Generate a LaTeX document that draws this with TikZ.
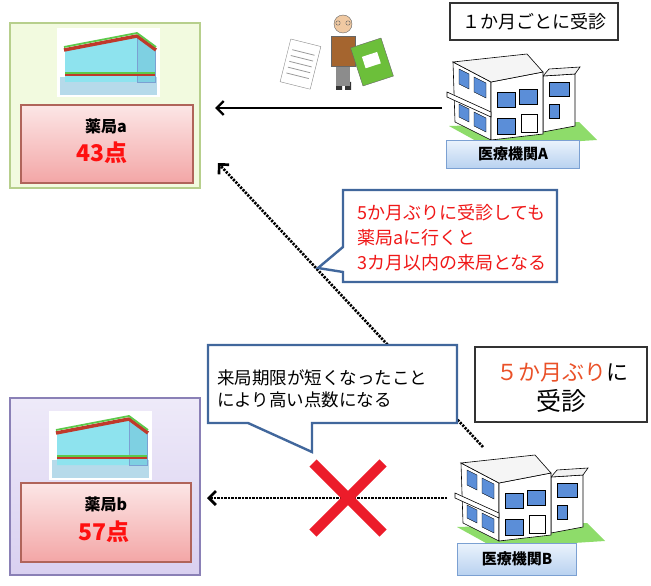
\documentclass[tikz,border=0pt]{standalone}
\usepackage{fontspec}
\newfontfamily\jp{Noto Sans CJK JP}
\usetikzlibrary{arrows.meta}

\definecolor{bggreen}{HTML}{F2FADF}
\definecolor{boxgreen}{HTML}{B7CF8C}
\definecolor{bgpurpletop}{HTML}{EEEAF9}
\definecolor{bgpurplebot}{HTML}{D9D0F0}
\definecolor{boxpurple}{HTML}{8A80B6}
\definecolor{pinktop}{HTML}{FCE6E6}
\definecolor{pinkbot}{HTML}{F3A6A6}
\definecolor{pinkline}{HTML}{B0645A}
\definecolor{labeltop}{HTML}{EBF3FC}
\definecolor{labelbot}{HTML}{B9D2F0}
\definecolor{labelline}{HTML}{7BA0D2}
\definecolor{calloutline}{HTML}{41679C}
\definecolor{scorered}{HTML}{FF1010}
\definecolor{crossred}{HTML}{EC1C2A}
\definecolor{notered}{HTML}{F01818}
\definecolor{monthred}{HTML}{EA5128}
\definecolor{glass}{HTML}{8EE3EE}
\definecolor{glassside}{HTML}{7ED0E2}
\definecolor{pharmbase}{HTML}{B6DAEA}
\definecolor{roofred}{HTML}{C0392B}
\definecolor{roofgreen}{HTML}{5CC94A}
\definecolor{window}{HTML}{5B8ED8}
\definecolor{grass}{HTML}{8EDC6A}
\definecolor{jacket}{HTML}{A5652F}
\definecolor{skin}{HTML}{F0C9A2}
\definecolor{booklet}{HTML}{6CBF3A}

\tikzset{
  % small shop building with a flat roof
  pharmacy/.pic={
    \fill[white] (-3,-4) rectangle (100,65);
    \fill[pharmbase] (0,45) rectangle (97,63);
    \fill[glass] (5,18) -- (77,4) -- (77,50) -- (5,50) -- cycle;
    \fill[glassside] (77,4) -- (95,18) -- (95,50) -- (77,50) -- cycle;
    \draw[labelline, line width=0.8pt] (77,6) -- (77,50) -- (95,50) -- (95,18);
    \draw[roofred, line width=3.5pt, line join=round] (4,18) -- (77,4) -- (96,18);
    \draw[roofgreen, line width=1.8pt, line join=round] (4,15) -- (77,1) -- (96,15);
    \draw[roofred, line width=2.2pt] (5,43) -- (95,43);
    \draw[roofgreen, line width=1.2pt] (5,41) -- (95,41);
  },
  % two storey clinic building
  clinic/.pic={
    \fill[grass] (2,74) -- (40,95) -- (150,88) -- (132,70) -- cycle;
    \begin{scope}[draw=black, line width=0.6pt, fill=white]
      \filldraw (96,24) -- (128,22) -- (128,74) -- (96,80) -- cycle;
      \filldraw[fill=black!5] (96,24) -- (102,17) -- (133,15) -- (128,22) -- cycle;
      \filldraw (6,10) -- (44,30) -- (44,88) -- (8,70) -- cycle;
      \filldraw (44,30) -- (96,20) -- (96,82) -- (44,88) -- cycle;
      \filldraw[fill=black!4] (6,10) -- (80,2) -- (96,20) -- (44,30) -- cycle;
      \filldraw (0,40) -- (44,60) -- (44,65) -- (0,45) -- cycle;
    \end{scope}
    \begin{scope}[fill=window, draw=black, line width=0.4pt]
      \filldraw (12,17) -- (22,22) -- (22,37) -- (12,32) -- cycle;
      \filldraw (27,25) -- (39,31) -- (39,46) -- (27,40) -- cycle;
      \filldraw (12,52) -- (22,57) -- (22,70) -- (12,65) -- cycle;
      \filldraw (27,60) -- (39,66) -- (39,80) -- (27,74) -- cycle;
      \filldraw (50,40) rectangle (68,55);
      \filldraw (72,37) rectangle (90,52);
      \filldraw (50,66) rectangle (68,82);
      \filldraw (102,30) rectangle (122,44);
      \filldraw (102,52) rectangle (112,66);
    \end{scope}
    \draw[line width=0.6pt] (74,62) rectangle (90,80);
  },
  boxbase/.style={anchor=north west, outer sep=0pt, line width=1.2pt},
  pinkbox/.style={boxbase, draw=pinkline, top color=pinktop, bottom color=pinkbot},
  clinictag/.style={draw=labelline, line width=1pt, top color=labeltop,
    bottom color=labelbot, font=\jp\bfseries\fontsize{15}{15}\selectfont},
  plainbox/.style={boxbase, draw=black!80, line width=1.4pt, fill=white},
  callout/.style={draw=calloutline, line width=2.4pt, fill=white, line join=miter},
  shopname/.style={font=\jp\bfseries\fontsize{16}{16}\selectfont},
  score/.style={text=scorered, font=\jp\bfseries\fontsize{23}{23}\selectfont},
  visit/.style={line width=2.4pt, -{Straight Barb[length=7pt,width=14pt]}},
  dotvisit/.style={visit, line width=2.7pt, dash pattern=on 2.2pt off 1.3pt},
}

\begin{document}
\begin{tikzpicture}[x=1pt, y=-1pt, font=\jp, every node/.style={inner sep=0pt}]
  \useasboundingbox (0,0) rectangle (651,586);

  % pharmacy a
  \node[boxbase, draw=boxgreen, fill=bggreen, minimum width=190, minimum height=165] (phA) at (10,23) {};
  \pic at (60,32) {pharmacy};
  \node[pinkbox, minimum width=172, minimum height=78] (pinkA) at (21,105) {};
  \node[shopname] (nameA) at (106,126) {薬局a};
  \node[score] (scoreA) at (102,153) {43点};

  % pharmacy b
  \node[boxbase, draw=boxpurple, top color=bgpurpletop, bottom color=bgpurplebot,
    minimum width=190, minimum height=177] (phB) at (10,398) {};
  \pic at (52,415) {pharmacy};
  \node[pinkbox, minimum width=170, minimum height=79] (pinkB) at (21,483) {};
  \node[shopname] (nameB) at (106,504) {薬局b};
  \node[score] (scoreB) at (104,532) {57点};

  % patient with prescription and booklet
  \filldraw[draw=black!45, fill=white, rotate around={-14:(300,64)}] (285,42) rectangle (316,86);
  \foreach \y in {52,58,64,70,76}
    \draw[black!40, line width=0.8pt, rotate around={-14:(300,64)}] (289,\y) -- (312,\y);
  \fill[black!80] (336,82) rectangle (342,90) (345,82) rectangle (351,90);
  \fill[black!45] (336,64) rectangle (350,86);
  \filldraw[draw=black!60, fill=jacket] (331,36) rectangle (355,66);
  \filldraw[draw=black!60, fill=skin] (343,24) circle (9);
  \draw[black!60] (338,23) circle (2.2) (348,23) circle (2.2);
  \filldraw[draw=black!60, fill=booklet, rotate around={18:(372,62)}] (356,42) rectangle (388,82);
  \fill[white, rotate around={18:(372,62)}] (364,54) rectangle (380,66);

  % clinics
  \pic at (447,52) {clinic};
  \node[clinictag, minimum width=133, minimum height=28] (hospA) at (513,154) {医療機関A};
  \pic at (455,453) {clinic};
  \node[clinictag, minimum width=119, minimum height=32] (hospB) at (517,559) {医療機関B};

  \node[plainbox, minimum width=168, minimum height=37, font=\jp\fontsize{18}{18}\selectfont] (every) at (450,3) {１か月ごとに受診};

  % visits
  \coordinate (fromA) at (442,108);
  \coordinate (toA) at (215,108);
  \coordinate (fromB) at (483,447);
  \coordinate (toAdot) at (218,163);
  \coordinate (fromBside) at (447,498);
  \coordinate (toB) at (207,498);
  \draw[visit] (fromA) -- (toA);
  \draw[dotvisit] (fromB) -- (toAdot);
  \draw[dotvisit] (fromBside) -- (toB);

  % not allowed
  \draw[crossred, line width=10pt] (313,463) -- (383,533) (383,463) -- (313,533);

  % note boxes
  \draw[callout] (343,190) -- (557,190) -- (557,282) -- (343,282) -- (343,272) -- (318,268) -- (343,247) -- cycle;
  \node[anchor=west, align=left, text=notered, font=\jp\fontsize{18}{25}\selectfont] (noteA) at (357,238)
    {5か月ぶりに受診しても\\薬局aに行くと\\3カ月以内の来局となる};

  \draw[callout] (208,345) -- (457,345) -- (457,423) -- (312,423) -- (312,452) -- (248,423) -- (208,423) -- cycle;
  \node[anchor=west, align=left, font=\jp\fontsize{17.5}{22}\selectfont] (noteB) at (217,389)
    {来局期限が短くなったこと\\により高い点数になる};

  \node[plainbox, minimum width=172, minimum height=75] (gap) at (475,347) {};
  \node[font=\jp\fontsize{22}{22}\selectfont] (gapA) at (562,373) {\textcolor{monthred}{５か月ぶり}に};
  \node[font=\jp\fontsize{25}{25}\selectfont] (gapB) at (561,401) {受診};
\end{tikzpicture}
\end{document}
